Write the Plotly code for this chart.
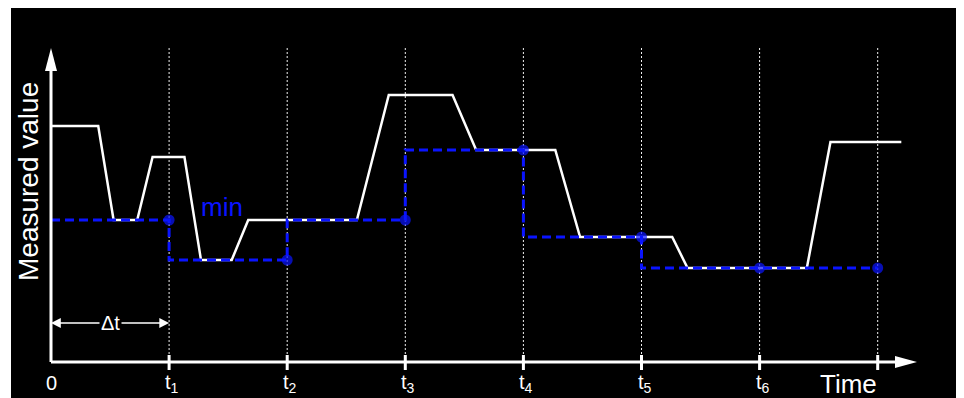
import plotly.graph_objects as go

# ---- data (time in units of Δt, value in arbitrary units) ----
signal_t = [0, 0.40, 0.53, 0.73, 0.86, 1.13, 1.27, 1.53, 1.67, 2.59, 2.86, 3.40,
            3.60, 4.27, 4.48, 5.26, 5.39, 6.40, 6.60, 7.20]
signal_v = [23.6, 23.6, 14.2, 14.2, 20.5, 20.5, 10.2, 10.2, 14.2, 14.2, 26.7, 26.7,
            21.2, 21.2, 12.5, 12.5, 9.4, 9.4, 22.0, 22.0]

sample_t = [0, 1, 2, 3, 4, 5, 6, 7]
min_v = [14.2, 14.2, 10.2, 14.2, 21.2, 12.5, 9.4, 9.4]

tick_t = [0, 1, 2, 3, 4, 5, 6]
tick_labels = ["0", "t<sub>1</sub>", "t<sub>2</sub>", "t<sub>3</sub>",
               "t<sub>4</sub>", "t<sub>5</sub>", "t<sub>6</sub>"]
grid_t = [1, 2, 3, 4, 5, 6, 7]

# ---- geometry helpers (pixels per data unit) ----
PX = 118.1
PY = 10.0
XMIN, XMAX = -40 / PX, 905 / PX
YMAX = 35.4
YMIN = YMAX - 398 / PY

FONT = "Liberation Sans, Arial, sans-serif"
BLUE = "#0a14ff"

fig = go.Figure()

fig.add_trace(go.Scatter(x=signal_t, y=signal_v, mode="lines",
                         line=dict(color="white", width=2.5), hoverinfo="skip"))
fig.add_trace(go.Scatter(x=sample_t, y=min_v, mode="lines+markers", line_shape="vh",
                         line=dict(color=BLUE, width=3, dash="9px,5px"),
                         marker=dict(color=BLUE, size=[0] + [11] * 7,
                                     line=dict(width=0)),
                         hoverinfo="skip"))

shapes = []
# dotted verticals
for t in grid_t:
    shapes.append(dict(type="line", x0=t, x1=t, y0=0, y1=31.5, layer="below",
                       line=dict(color="#f0f0f0", width=1, dash="2px,2px")))
# axes
x_tip = 866 / PX
y_tip = 31.4
shapes.append(dict(type="line", x0=0, x1=x_tip - 10 / PX, y0=0, y1=0,
                   line=dict(color="white", width=3)))
shapes.append(dict(type="line", x0=0, x1=0, y0=0, y1=y_tip - 1.0,
                   line=dict(color="white", width=3)))
shapes.append(dict(type="path",
                   path=f"M {x_tip - 22 / PX},{-0.6} L {x_tip},0 L {x_tip - 22 / PX},0.6 Z",
                   fillcolor="white", line=dict(color="white", width=0)))
shapes.append(dict(type="path",
                   path=f"M {-6 / PX},{y_tip - 2.3} L 0,{y_tip} L {6 / PX},{y_tip - 2.3} Z",
                   fillcolor="white", line=dict(color="white", width=0)))
# tick marks
for t in grid_t:
    shapes.append(dict(type="line", x0=t, x1=t, y0=-0.8, y1=0.7,
                       line=dict(color="white", width=3)))

annotations = []
for t, lab in zip(tick_t, tick_labels):
    annotations.append(dict(x=t, y=-2.1, text=lab, showarrow=False,
                            xanchor="center" if t == 0 else "left",
                            xshift=0 if t == 0 else -6,
                            font=dict(family=FONT, size=20, color="white")))
annotations.append(dict(x=(848 - 51) / PX, y=-2.2, text="Time", showarrow=False,
                        font=dict(family=FONT, size=26, color="white")))
annotations.append(dict(x=-23 / PX, y=18.0, text="Measured value", showarrow=False,
                        textangle=-90, font=dict(family=FONT, size=28, color="white")))
annotations.append(dict(x=1.448, y=15.5, text="min", showarrow=False,
                        font=dict(family=FONT, size=26, color=BLUE)))
# Δt double arrow
for head in (0, 1):
    annotations.append(dict(x=head, y=3.9, ax=0.5, ay=3.9, axref="x", ayref="y",
                            text="", showarrow=True, arrowhead=2, arrowsize=1.4,
                            arrowwidth=1.4, arrowcolor="white"))
annotations.append(dict(x=0.5, y=3.9, text="Δt", showarrow=False, bgcolor="black",
                        borderpad=1,
                        font=dict(family=FONT, size=20, color="white")))

fig.update_layout(
    width=948, height=398,
    margin=dict(l=3, r=0, t=0, b=0, pad=0),
    paper_bgcolor="white", plot_bgcolor="black",
    showlegend=False,
    xaxis=dict(range=[XMIN, XMAX], visible=False, fixedrange=True),
    yaxis=dict(range=[YMIN, YMAX], visible=False, fixedrange=True),
    shapes=shapes, annotations=annotations,
)

fig.write_html("out.html")
